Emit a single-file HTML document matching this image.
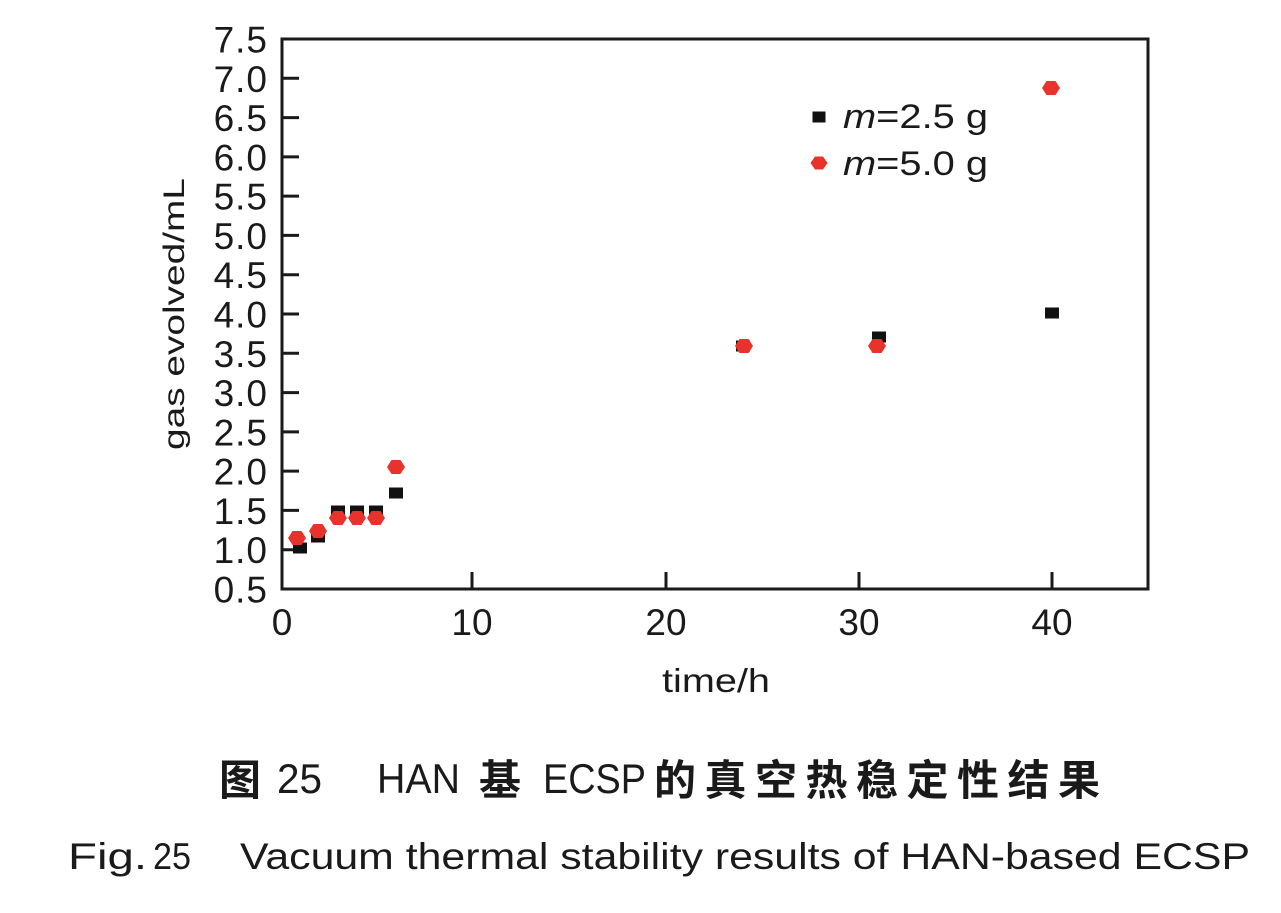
<!DOCTYPE html>
<html>
<head>
<meta charset="utf-8">
<style>
  html,body{margin:0;padding:0;background:#fff;}
  svg{display:block;}
  .t{font-family:"Liberation Sans","Noto Sans CJK SC",sans-serif;fill:#1a1a1a;}
  .cjk{font-family:"Noto Sans CJK SC","WenQuanYi Zen Hei",sans-serif;font-weight:bold;fill:#1a1a1a;}
</style>
</head>
<body>
<svg width="1281" height="913" viewBox="0 0 1281 913" xmlns="http://www.w3.org/2000/svg">
  <rect x="0" y="0" width="1281" height="913" fill="#fff"/>

  <!-- axes box -->
  <rect x="282" y="39" width="866" height="550" fill="none" stroke="#1a1a1a" stroke-width="3"/>

  <!-- y ticks -->
  <g stroke="#1a1a1a" stroke-width="3">
    <line x1="282" y1="549.7" x2="299" y2="549.7"/>
    <line x1="282" y1="510.4" x2="299" y2="510.4"/>
    <line x1="282" y1="471.1" x2="299" y2="471.1"/>
    <line x1="282" y1="431.9" x2="299" y2="431.9"/>
    <line x1="282" y1="392.6" x2="299" y2="392.6"/>
    <line x1="282" y1="353.3" x2="299" y2="353.3"/>
    <line x1="282" y1="314" x2="299" y2="314"/>
    <line x1="282" y1="274.7" x2="299" y2="274.7"/>
    <line x1="282" y1="235.4" x2="299" y2="235.4"/>
    <line x1="282" y1="196.1" x2="299" y2="196.1"/>
    <line x1="282" y1="156.9" x2="299" y2="156.9"/>
    <line x1="282" y1="117.6" x2="299" y2="117.6"/>
    <line x1="282" y1="78.3" x2="299" y2="78.3"/>
    <!-- x ticks -->
    <line x1="472" y1="589" x2="472" y2="572"/>
    <line x1="666" y1="589" x2="666" y2="572"/>
    <line x1="859" y1="589" x2="859" y2="572"/>
    <line x1="1052" y1="589" x2="1052" y2="572"/>
  </g>

  <!-- y tick labels -->
  <g class="t" font-size="37" text-anchor="end" letter-spacing="1">
    <text x="268" y="602.5">0.5</text>
    <text x="268" y="563.2">1.0</text>
    <text x="268" y="523.9">1.5</text>
    <text x="268" y="484.6">2.0</text>
    <text x="268" y="445.4">2.5</text>
    <text x="268" y="406.1">3.0</text>
    <text x="268" y="366.8">3.5</text>
    <text x="268" y="327.5">4.0</text>
    <text x="268" y="288.2">4.5</text>
    <text x="268" y="248.9">5.0</text>
    <text x="268" y="209.6">5.5</text>
    <text x="268" y="170.4">6.0</text>
    <text x="268" y="131.1">6.5</text>
    <text x="268" y="91.8">7.0</text>
    <text x="268" y="52.5">7.5</text>
  </g>

  <!-- x tick labels -->
  <g class="t" font-size="37" text-anchor="middle">
    <text x="282" y="635">0</text>
    <text x="472" y="635">10</text>
    <text x="666" y="635">20</text>
    <text x="859" y="635">30</text>
    <text x="1052" y="635">40</text>
  </g>

  <!-- axis titles -->
  <text class="t" x="662" y="692" font-size="33" textLength="108" lengthAdjust="spacingAndGlyphs">time/h</text>
  <text class="t" transform="translate(184,450) rotate(-90)" x="0" y="0" font-size="30" textLength="272" lengthAdjust="spacingAndGlyphs">gas evolved/mL</text>

  <!-- black squares (m=2.5 g) -->
  <g fill="#111">
    <rect x="293" y="542.5" width="14" height="11"/>
    <rect x="311" y="531.5" width="14" height="11"/>
    <rect x="331" y="505.5" width="14" height="11"/>
    <rect x="350" y="505.5" width="14" height="11"/>
    <rect x="369" y="505.5" width="14" height="11"/>
    <rect x="389" y="487.5" width="14" height="11"/>
    <rect x="736" y="340.5" width="14" height="11"/>
    <rect x="872" y="331.5" width="14" height="11"/>
    <rect x="1045" y="307.5" width="14" height="11"/>
  </g>

  <!-- red diamonds (m=5.0 g) -->
  <g fill="#e8322c">
    <polygon transform="translate(297,538)" points="-9,0 -4.5,-7 4.5,-7 9,0 4.5,7 -4.5,7"/>
    <polygon transform="translate(318,531)" points="-9,0 -4.5,-7 4.5,-7 9,0 4.5,7 -4.5,7"/>
    <polygon transform="translate(338,518)" points="-9,0 -4.5,-7 4.5,-7 9,0 4.5,7 -4.5,7"/>
    <polygon transform="translate(357,518)" points="-9,0 -4.5,-7 4.5,-7 9,0 4.5,7 -4.5,7"/>
    <polygon transform="translate(376,518)" points="-9,0 -4.5,-7 4.5,-7 9,0 4.5,7 -4.5,7"/>
    <polygon transform="translate(396,467)" points="-9,0 -4.5,-7 4.5,-7 9,0 4.5,7 -4.5,7"/>
    <polygon transform="translate(744,346)" points="-9,0 -4.5,-7 4.5,-7 9,0 4.5,7 -4.5,7"/>
    <polygon transform="translate(877,346)" points="-9,0 -4.5,-7 4.5,-7 9,0 4.5,7 -4.5,7"/>
    <polygon transform="translate(1051,88)" points="-9,0 -4.5,-7 4.5,-7 9,0 4.5,7 -4.5,7"/>
  </g>

  <!-- legend -->
  <rect x="812.5" y="111.5" width="13" height="11" fill="#111"/>
  <polygon transform="translate(819,163)" points="-8.5,0 -4,-6.5 4,-6.5 8.5,0 4,6.5 -4,6.5" fill="#e8322c"/>
  <text class="t" x="843" y="128" font-size="34" textLength="145" lengthAdjust="spacingAndGlyphs"><tspan font-style="italic">m</tspan>=2.5 g</text>
  <text class="t" x="843" y="175" font-size="34" textLength="145" lengthAdjust="spacingAndGlyphs"><tspan font-style="italic">m</tspan>=5.0 g</text>

  <!-- Chinese caption -->
  <text class="cjk" x="219" y="795" font-size="42">图</text>
  <text class="t" x="277" y="793" font-size="42" textLength="45" lengthAdjust="spacingAndGlyphs">25</text>
  <text class="t" x="377" y="793" font-size="42" textLength="83" lengthAdjust="spacingAndGlyphs">HAN</text>
  <text class="cjk" x="479" y="795" font-size="42">基</text>
  <text class="t" x="543" y="793" font-size="42" textLength="103" lengthAdjust="spacingAndGlyphs">ECSP</text>
  <text class="cjk" x="654" y="795" font-size="42" textLength="446" lengthAdjust="spacing">的真空热稳定性结果</text>

  <!-- English caption -->
  <text class="t" x="68" y="869" font-size="37" textLength="79" lengthAdjust="spacingAndGlyphs">Fig.</text>
  <text class="t" x="153" y="869" font-size="37" textLength="38" lengthAdjust="spacingAndGlyphs">25</text>
  <text class="t" x="240" y="869" font-size="37" textLength="1010" lengthAdjust="spacingAndGlyphs">Vacuum thermal stability results of HAN-based ECSP</text>
</svg>
</body>
</html>
